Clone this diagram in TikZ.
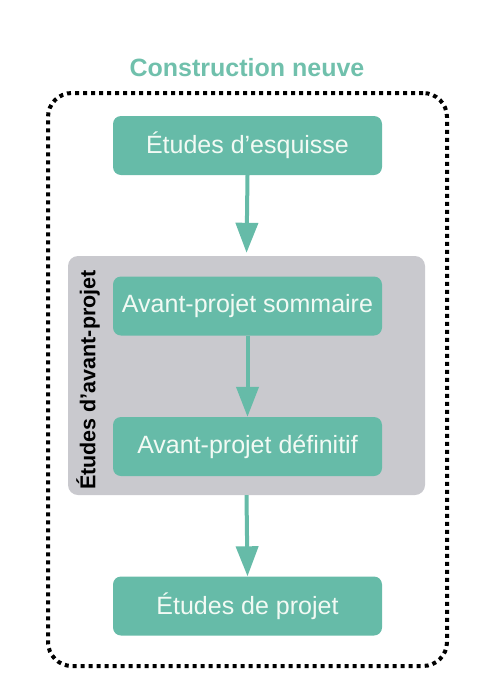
\documentclass[tikz,border=0pt]{standalone}
\usepackage{fontspec}
\setmainfont{Liberation Sans}
\usetikzlibrary{arrows.meta}
\definecolor{teal1}{RGB}{102,187,168}
\definecolor{tealtxt}{RGB}{112,192,172}
\definecolor{grayfill}{RGB}{201,201,206}
\definecolor{boxtxt}{RGB}{242,250,244}
\tikzset{
  stepbox/.style={draw=none, fill=teal1, rounded corners=8pt, minimum width=269pt, minimum height=59pt, text=boxtxt, font=\fontsize{25}{28}\selectfont, inner sep=0pt},
  flowarrow/.style={draw=teal1, line width=4pt, -{Triangle[width=22pt,length=30pt]}},
}
\begin{document}
\begin{tikzpicture}[x=1pt,y=-1pt]
\useasboundingbox (0,0) rectangle (496,694);
\node[font=\bfseries\fontsize{25}{28}\selectfont, text=tealtxt] (title) at (247,68) {Construction neuve};
\node[draw=black, line width=4pt, dash pattern=on 4pt off 4pt, rounded corners=24pt, minimum width=399pt, minimum height=573pt, inner sep=0pt] (outer) at (247.5,379.5) {};
\node[fill=grayfill, rounded corners=10pt, minimum width=357pt, minimum height=239pt, inner sep=0pt] (grp) at (246.5,375.5) {};
\node[rotate=90, font=\bfseries\fontsize{21.5}{24}\selectfont, text=black] (glabel) at (88,380) {Études d\char"27 avant-projet};
\node[stepbox] (b1) at (247.5,145.5) {Études d’esquisse};
\node[stepbox] (b2) at (247.5,306) {Avant-projet sommaire};
\node[stepbox] (b3) at (247.5,446.5) {Avant-projet définitif};
\node[stepbox] (b4) at (247.5,606) {Études de projet};
\draw[flowarrow, shorten >=3pt] (b1.south) -- (grp.north);
\draw[flowarrow] (b2.south) -- (b3.north);
\draw[flowarrow] (grp.south) -- (b4.north);
\end{tikzpicture}
\end{document}
